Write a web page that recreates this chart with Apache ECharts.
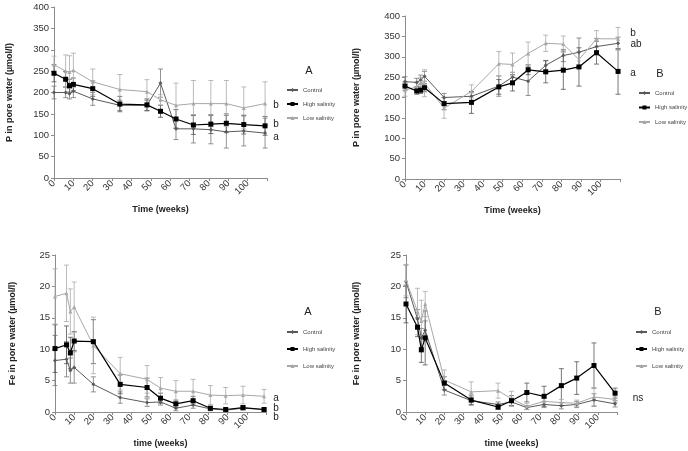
<!DOCTYPE html>
<html><head><meta charset="utf-8">
<script src="https://cdn.jsdelivr.net/npm/echarts@6/dist/echarts.min.js"></script>
<style>html,body{margin:0;padding:0;background:#fff}#c{width:688px;height:451px}</style>
</head><body><div id="c"></div>
<script>
const times = [0, 6, 8, 10, 20, 34, 48, 55, 63, 72, 81, 89, 98, 109];
const seriesNames = ['Control', 'High salinity', 'Low salinity'];

const pA_control    = [200,200,197,203,185,170,170,222,115,115,113,108,110,105];
const pA_controlErr = [15,12,12,15,15,12,12,33,25,33,33,38,35,35];
const pA_high       = [245,231,216,219,209,173,171,156,138,124,126,128,125,122];
const pA_highErr    = [20,18,15,15,18,18,14,14,22,22,22,22,22,22];
const pA_low        = [265,250,248,252,225,207,202,183,170,174,174,174,164,174];
const pA_lowErr     = [20,38,38,40,30,35,28,12,52,54,54,54,49,51];

const pB_control    = [239,237,243,252,200,203,228,250,240,279,303,311,325,333];
const pB_controlErr = [12,10,12,12,10,10,25,12,35,12,15,35,20,15];
const pB_high       = [228,216,218,224,185,188,226,236,268,263,267,275,310,264];
const pB_highErr    = [10,8,8,10,15,27,18,20,12,27,47,47,28,56];
const pB_low        = [218,226,237,235,174,215,283,281,308,333,331,293,344,344];
const pB_lowErr     = [15,12,12,33,25,16,30,28,28,20,20,20,20,28];

const feA_control    = [8.2,8.4,6.6,7.1,4.4,2.3,1.5,1.6,0.6,1.1,0.5,0.3,0.6,0.4];
const feA_controlErr = [4.0,2.8,2.0,2.5,1.2,0.9,0.6,0.5,0.4,0.5,0.3,0.2,0.3,0.2];
const feA_high       = [10.1,10.7,9.4,11.3,11.2,4.4,3.9,2.2,1.3,1.8,0.6,0.4,0.7,0.4];
const feA_highErr    = [3.8,3.0,2.5,1.5,3.5,1.5,1.5,0.8,0.6,0.7,0.3,0.2,0.3,0.2];
const feA_low        = [18.4,18.9,16.0,16.7,10.6,6.1,5.2,3.8,3.3,3.3,2.7,2.6,2.7,2.5];
const feA_lowErr     = [4.4,4.5,3.6,4.0,4.5,2.6,2.2,1.7,1.7,1.9,1.5,1.3,1.4,1.1];

const feB_control    = [20.8,14.8,11.8,13.0,3.5,1.8,1.2,1.6,0.7,1.2,1.0,1.2,1.9,1.3];
const feB_controlErr = [2.6,1.5,1.5,1.5,0.8,0.6,0.4,0.6,0.3,0.5,0.5,0.5,1.0,0.5];
const feB_high       = [17.2,13.5,9.9,11.8,4.6,1.9,0.8,1.8,3.1,2.5,4.2,5.4,7.4,3.0];
const feB_highErr    = [3.0,1.5,2.0,4.3,1.0,0.8,0.4,0.8,1.5,1.6,2.7,2.6,3.6,0.8];
const feB_low        = [21.0,16.0,14.5,17.2,5.1,3.2,3.4,2.1,0.9,1.7,1.5,1.4,2.4,2.0];
const feB_lowErr     = [2.5,3.7,3.3,2.0,1.6,1.6,1.2,1.2,0.5,0.5,0.5,0.5,1.4,0.5];

const panels = [
  {grid:{left:54, top:7, width:213, height:171}, yMax:400, yInt:50, yName:'P in pore water (\u00b5mol/l)', xName:'Time (weeks)', yGap:40,
   data:[[pA_control,pA_controlErr],[pA_high,pA_highErr],[pA_low,pA_lowErr]]},
  {grid:{left:405, top:16, width:215, height:163}, yMax:400, yInt:50, yName:'P in pore water (\u00b5mol/l)', xName:'Time (weeks)', yGap:44,
   data:[[pB_control,pB_controlErr],[pB_high,pB_highErr],[pB_low,pB_lowErr]]},
  {grid:{left:55, top:255, width:211, height:157}, yMax:25, yInt:5, yName:'Fe in pore water (\u00b5mol/l)', xName:'time (weeks)', yGap:38,
   data:[[feA_control,feA_controlErr],[feA_high,feA_highErr],[feA_low,feA_lowErr]]},
  {grid:{left:406, top:255, width:211, height:157}, yMax:25, yInt:5, yName:'Fe in pore water (\u00b5mol/l)', xName:'time (weeks)', yGap:45,
   data:[[feB_control,feB_controlErr],[feB_high,feB_highErr],[feB_low,feB_lowErr]]}
];

const lineColors = ['#5a5a5a', '#000000', '#a8a8a8'];
const errColors = ['#777777', '#555555', '#aaaaaa'];
const symbols = ['diamond', 'rect', 'triangle'];
const symSizes = [4, 5, 4];
const FONT = 'Liberation Sans, Arial, sans-serif';

const grids = [], xAxes = [], yAxes = [], series = [];
panels.forEach((p, i) => {
  grids.push(p.grid);
  xAxes.push({
    type:'value', gridIndex:i, min:0, max:110, interval:10,
    name:p.xName, nameLocation:'middle', nameGap:27,
    nameTextStyle:{fontFamily:FONT, fontWeight:'bold', fontSize:9, color:'#222'},
    axisLine:{lineStyle:{color:'#8c8c8c'}},
    axisTick:{show:true, length:3, lineStyle:{color:'#8c8c8c'}},
    splitLine:{show:false},
    axisLabel:{rotate:45, fontFamily:FONT, fontSize:9.5, color:'#333', margin:4,
      formatter: v => v > 100 ? '' : String(v)}
  });
  yAxes.push({
    type:'value', gridIndex:i, min:0, max:p.yMax, interval:p.yInt,
    name:p.yName, nameLocation:'middle', nameGap:p.yGap, nameRotate:90,
    nameTextStyle:{fontFamily:FONT, fontWeight:'bold', fontSize:9, color:'#222'},
    axisLine:{show:true, lineStyle:{color:'#8c8c8c'}},
    axisTick:{show:true, length:3, lineStyle:{color:'#8c8c8c'}},
    splitLine:{show:false},
    axisLabel:{fontFamily:FONT, fontSize:9.5, color:'#333', margin:5}
  });
  p.data.forEach((d, k) => {
    const vals = d[0], errs = d[1];
    series.push({
      type:'custom', name:seriesNames[k] + ' error', xAxisIndex:i, yAxisIndex:i, z:1,
      data: times.map((t, j) => [t, vals[j] - errs[j], vals[j] + errs[j]]),
      renderItem: (params, api) => {
        const lo = api.coord([api.value(0), api.value(1)]);
        const hi = api.coord([api.value(0), api.value(2)]);
        const w = 2.5;
        const st = {stroke: errColors[k], lineWidth: 0.8};
        return {type:'group', children:[
          {type:'line', shape:{x1:lo[0], y1:lo[1], x2:hi[0], y2:hi[1]}, style:st},
          {type:'line', shape:{x1:lo[0]-w, y1:lo[1], x2:lo[0]+w, y2:lo[1]}, style:st},
          {type:'line', shape:{x1:hi[0]-w, y1:hi[1], x2:hi[0]+w, y2:hi[1]}, style:st}
        ]};
      }
    });
    series.push({
      type:'line', name:seriesNames[k], xAxisIndex:i, yAxisIndex:i, z:3 + (k === 1 ? 1 : 0),
      data: times.map((t, j) => [t, vals[j]]),
      symbol:symbols[k], symbolSize:symSizes[k], showSymbol:true,
      lineStyle:{color:lineColors[k], width:k === 1 ? 1.2 : 1},
      itemStyle:{color:lineColors[k]}
    });
  });
});

const legendPos = [
  {left:286, top:87, gap:8},
  {left:638, top:90, gap:8.5},
  {left:286, top:329, gap:11},
  {left:635, top:329, gap:11}
];
const legends = legendPos.map(l => ({
  orient:'vertical', left:l.left, top:l.top, itemGap:l.gap, padding:0,
  itemWidth:11, itemHeight:5, data:seriesNames, selectedMode:false,
  textStyle:{fontFamily:FONT, fontSize:6, color:'#444'}
}));

const labels = [
  ['A', 309, 71, 11], ['b', 276, 105, 10], ['b', 276, 124, 10], ['a', 276, 137, 10],
  ['B', 660, 74, 11], ['b', 633, 33, 10], ['ab', 636, 44, 10], ['a', 633, 73, 10],
  ['A', 308, 312, 11], ['a', 276, 398, 10], ['b', 276, 408, 10], ['b', 276, 417, 10],
  ['B', 658, 312, 11], ['ns', 638, 398, 10]
];
const graphic = labels.map(l => ({
  type:'text', x:l[1], y:l[2],
  style:{text:l[0], fontFamily:FONT, fontSize:l[3], fill:'#222', textAlign:'center', textVerticalAlign:'middle'}
}));

const chart = echarts.init(document.getElementById('c'), null, {renderer:'canvas'});
chart.setOption({
  animation:false, backgroundColor:'#fff',
  grid:grids, xAxis:xAxes, yAxis:yAxes, series:series, legend:legends, graphic:graphic
});
</script></body></html>
